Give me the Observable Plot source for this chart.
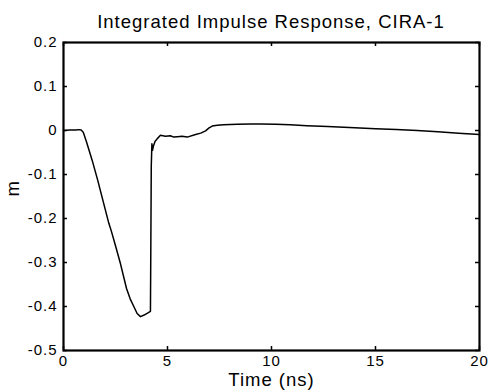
<!DOCTYPE html>
<html><head><meta charset="utf-8">
<script src="https://cdn.jsdelivr.net/npm/d3@7"></script>
<script src="https://cdn.jsdelivr.net/npm/@observablehq/plot@0.6"></script>
<style>
body{margin:0;background:#fff;font-family:"Liberation Sans",Arial,sans-serif;}
#title{width:416px;margin-left:63px;height:34px;box-sizing:border-box;padding-top:11px;line-height:21px;font-size:18.5px;letter-spacing:1px;text-align:center;color:#000;white-space:nowrap}
</style></head><body>
<div id="title">Integrated Impulse Response, CIRA-1</div>
<div id="chart"></div>
<script>
const time = [0, 0.3, 0.6, 0.72, 0.85, 0.95, 1.1, 1.38, 1.65, 1.9, 2.18, 2.29, 2.5, 2.74, 3.03, 3.2, 3.38, 3.54, 3.7, 3.85, 4.0, 4.18, 4.2, 4.22, 4.25, 4.28, 4.32, 4.4, 4.5, 4.66, 4.9, 5.14, 5.3, 5.47, 5.7, 5.95, 6.35, 6.6, 6.83, 7.0, 7.15, 7.4, 7.7, 8.35, 9.0, 9.5, 10.2, 10.9, 11.7, 12.7, 14, 15, 16, 17, 18, 19, 20];
const response = [0, 0.001, 0.001, 0.002, 0.001, -0.004, -0.025, -0.068, -0.114, -0.16, -0.211, -0.227, -0.262, -0.303, -0.359, -0.382, -0.4, -0.416, -0.423, -0.42, -0.416, -0.411, -0.25, -0.08, -0.03, -0.045, -0.036, -0.025, -0.019, -0.011, -0.013, -0.012, -0.015, -0.014, -0.013, -0.015, -0.009, -0.006, -0.001, 0.006, 0.01, 0.012, 0.013, 0.014, 0.015, 0.015, 0.014, 0.013, 0.011, 0.009, 0.006, 0.004, 0.002, 0, -0.003, -0.006, -0.009];
const xTicks = [0, 5, 10, 15, 20];
const yTicks = [0.2, 0.1, 0, -0.1, -0.2, -0.3, -0.4, -0.5];
const titleText = "Integrated Impulse Response, CIRA-1";
const xLabel = "Time (ns)";
const yLabel = "m";

const W = 488, H = 358, mL = 63, mR = 9, mT = 8, mB = 42;
const pw = W - mL - mR, ph = H - mT - mB;
const data = time.map((t, i) => ({t, v: response[i]}));

const chart = Plot.plot({
  width: W, height: H,
  marginLeft: mL, marginRight: mR, marginTop: mT, marginBottom: mB,
  style: {fontFamily: "'Liberation Sans', Arial, sans-serif", fontSize: "15px", color: "black", background: "white", letterSpacing: "1px"},
  x: {domain: [0, 20]},
  y: {domain: [-0.5, 0.2]},
  marks: [
    Plot.line(data, {x: "t", y: "v", stroke: "black", strokeWidth: 1.5}),
    Plot.tickX(xTicks, {x: d => d, insetTop: ph - 4, stroke: "black", strokeWidth: 1.5}),
    Plot.tickX(xTicks, {x: d => d, insetBottom: ph - 4, stroke: "black", strokeWidth: 1.5}),
    Plot.tickY(yTicks, {y: d => d, insetRight: pw - 4, stroke: "black", strokeWidth: 1.5}),
    Plot.tickY(yTicks, {y: d => d, insetLeft: pw - 4, stroke: "black", strokeWidth: 1.5}),
    Plot.frame({stroke: "black", strokeWidth: 2.2}),
    Plot.axisX(xTicks, {tickSize: 0, tickPadding: 5, tickFormat: d => String(d), label: null, fontSize: 15}),
    Plot.axisY(yTicks, {tickSize: 0, tickPadding: 6, tickFormat: d => String(d), label: null, fontSize: 15}),
    Plot.text([xLabel], {text: d => d, frameAnchor: "bottom", dy: 35, fontSize: 18.5}),
    Plot.text([yLabel], {text: d => d, frameAnchor: "left", dx: -50, rotate: -90, fontSize: 18.5})
  ]
});
document.getElementById("title").textContent = titleText;
document.getElementById("chart").appendChild(chart);
</script>
</body></html>
